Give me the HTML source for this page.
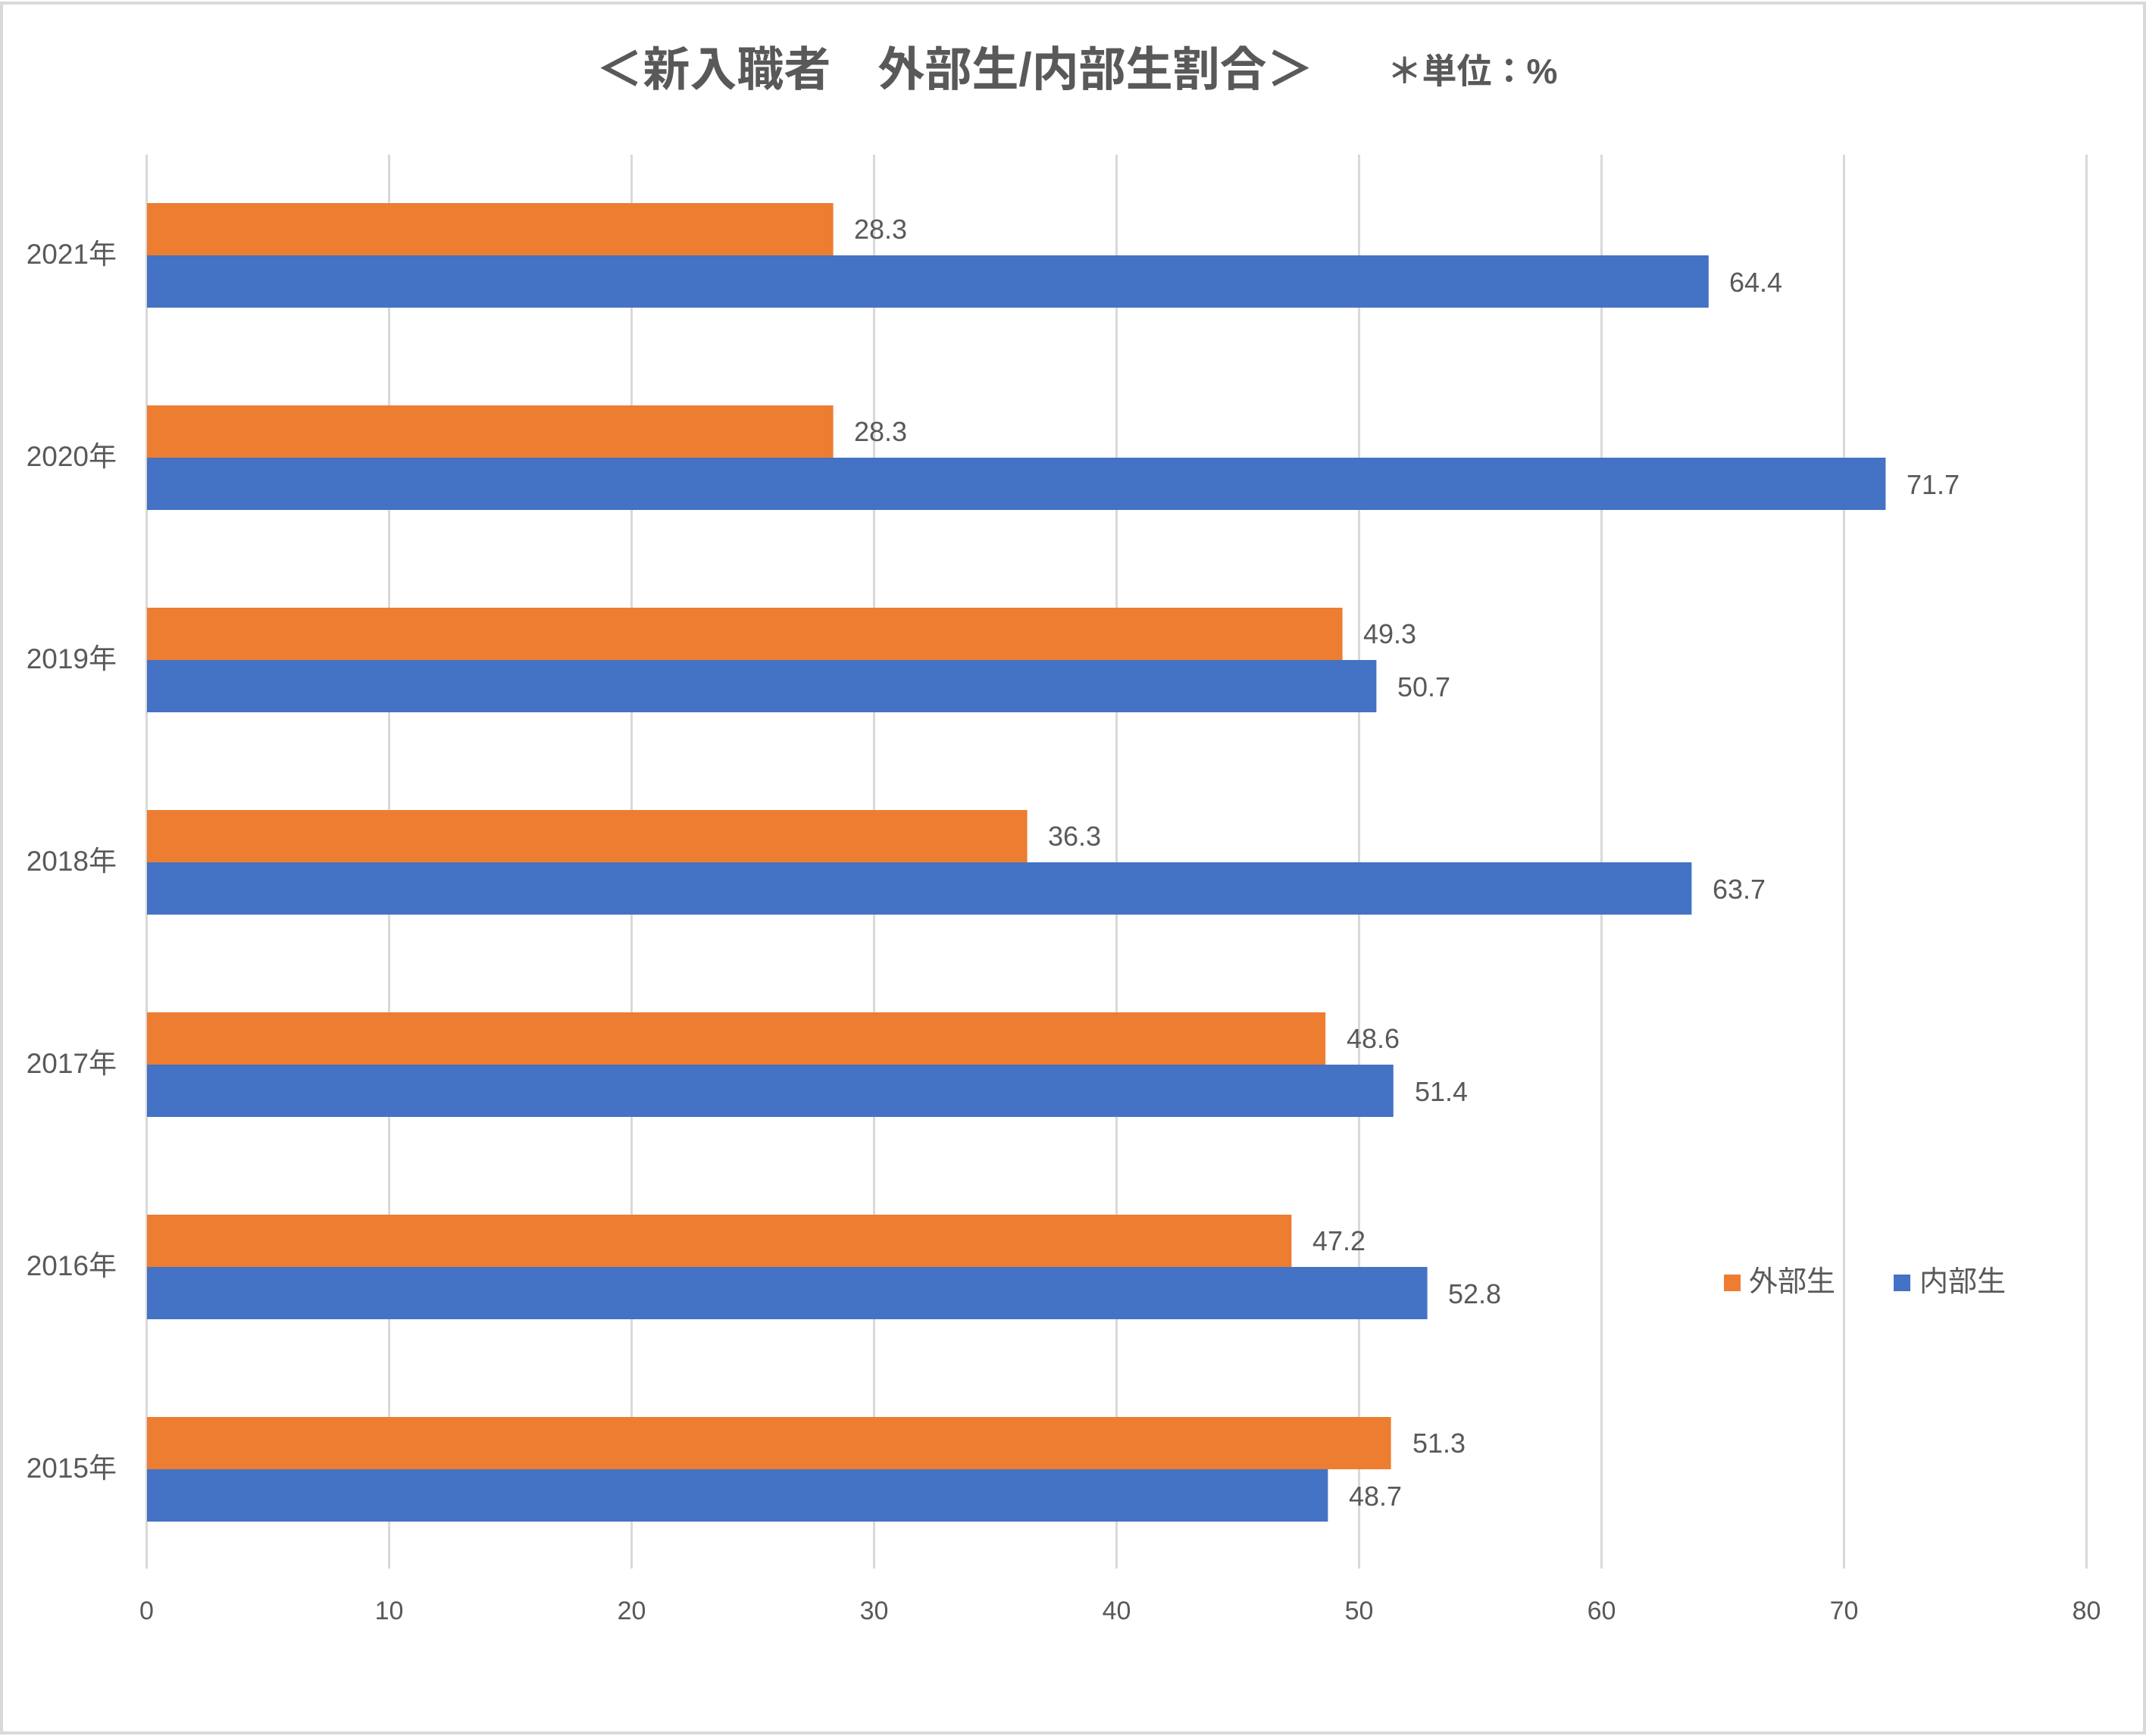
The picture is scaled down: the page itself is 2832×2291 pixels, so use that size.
<!DOCTYPE html>
<html><head><meta charset="utf-8"><style>
html,body{margin:0;padding:0;background:#fff;}
svg{display:block;}
text{font-family:"Liberation Sans","Noto Sans CJK JP",sans-serif;fill:#595959;}
</style></head><body>
<svg width="2832" height="2291" viewBox="0 0 2832 2291" xmlns="http://www.w3.org/2000/svg">
<rect x="0" y="0" width="2832" height="2291" fill="#fff"/>
<rect x="2" y="4" width="2828" height="2283" fill="none" stroke="#d9d9d9" stroke-width="4"/>
<text x="1260" y="113" font-size="62" font-weight="bold" text-anchor="middle">＜新入職者　外部生/内部生割合＞</text>
<text x="1943" y="110" font-size="46" font-weight="bold" text-anchor="middle">＊単位：%</text>
<g stroke="#d9d9d9" stroke-width="3">
<line x1="193.5" y1="204" x2="193.5" y2="2070"/>
<line x1="513.5" y1="204" x2="513.5" y2="2070"/>
<line x1="833.5" y1="204" x2="833.5" y2="2070"/>
<line x1="1153.5" y1="204" x2="1153.5" y2="2070"/>
<line x1="1473.5" y1="204" x2="1473.5" y2="2070"/>
<line x1="1793.5" y1="204" x2="1793.5" y2="2070"/>
<line x1="2113.5" y1="204" x2="2113.5" y2="2070"/>
<line x1="2433.5" y1="204" x2="2433.5" y2="2070"/>
<line x1="2753.5" y1="204" x2="2753.5" y2="2070"/>
</g>
<g font-size="34" text-anchor="middle">
<text x="193.5" y="2137">0</text><text x="513.5" y="2137">10</text><text x="833.5" y="2137">20</text>
<text x="1153.5" y="2137">30</text><text x="1473.5" y="2137">40</text><text x="1793.5" y="2137">50</text>
<text x="2113.5" y="2137">60</text><text x="2433.5" y="2137">70</text><text x="2753.5" y="2137">80</text>
</g>
<g font-size="36">
<rect x="194" y="268" width="905.6" height="69" fill="#ed7d31"/>
<rect x="194" y="337" width="2060.8" height="69" fill="#4472c4"/>
<text x="1127" y="315">28.3</text><text x="2282" y="385">64.4</text>
<text x="154" y="348" text-anchor="end" font-size="37">2021年</text>
<rect x="194" y="535" width="905.6" height="69" fill="#ed7d31"/>
<rect x="194" y="604" width="2294.4" height="69" fill="#4472c4"/>
<text x="1127" y="582">28.3</text><text x="2516" y="652">71.7</text>
<text x="154" y="615" text-anchor="end" font-size="37">2020年</text>
<rect x="194" y="802" width="1577.6" height="69" fill="#ed7d31"/>
<rect x="194" y="871" width="1622.4" height="69" fill="#4472c4"/>
<text x="1799" y="849">49.3</text><text x="1844" y="919">50.7</text>
<text x="154" y="882" text-anchor="end" font-size="37">2019年</text>
<rect x="194" y="1069" width="1161.6" height="69" fill="#ed7d31"/>
<rect x="194" y="1138" width="2038.4" height="69" fill="#4472c4"/>
<text x="1383" y="1116">36.3</text><text x="2260" y="1186">63.7</text>
<text x="154" y="1149" text-anchor="end" font-size="37">2018年</text>
<rect x="194" y="1336" width="1555.2" height="69" fill="#ed7d31"/>
<rect x="194" y="1405" width="1644.8" height="69" fill="#4472c4"/>
<text x="1777" y="1383">48.6</text><text x="1867" y="1453">51.4</text>
<text x="154" y="1416" text-anchor="end" font-size="37">2017年</text>
<rect x="194" y="1603" width="1510.4" height="69" fill="#ed7d31"/>
<rect x="194" y="1672" width="1689.6" height="69" fill="#4472c4"/>
<text x="1732" y="1650">47.2</text><text x="1911" y="1720">52.8</text>
<text x="154" y="1683" text-anchor="end" font-size="37">2016年</text>
<rect x="194" y="1870" width="1641.6" height="69" fill="#ed7d31"/>
<rect x="194" y="1939" width="1558.4" height="69" fill="#4472c4"/>
<text x="1864" y="1917">51.3</text><text x="1780" y="1987">48.7</text>
<text x="154" y="1950" text-anchor="end" font-size="37">2015年</text>
</g>
<rect x="2275" y="1682" width="22" height="22" fill="#ed7d31"/>
<text x="2308" y="1704" font-size="38">外部生</text>
<rect x="2499" y="1682" width="22" height="22" fill="#4472c4"/>
<text x="2533" y="1704" font-size="38">内部生</text>
</svg>
</body></html>
